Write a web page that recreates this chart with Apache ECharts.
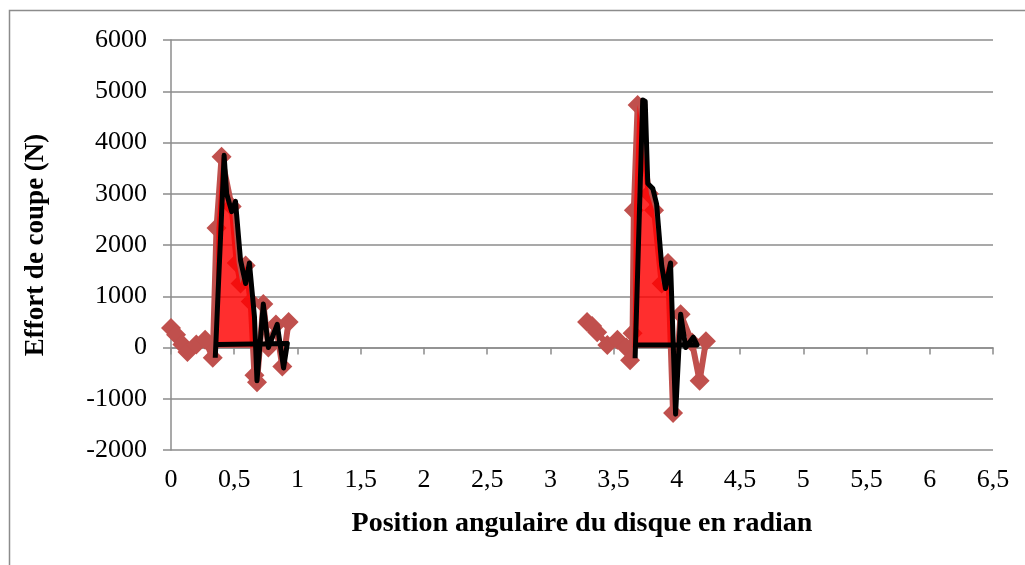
<!DOCTYPE html>
<html>
<head>
<meta charset="utf-8">
<script src="https://cdn.jsdelivr.net/npm/echarts@6/dist/echarts.min.js"></script>
<style>
html,body{margin:0;padding:0;background:#fff;}
#main{width:1025px;height:565px;}
</style>
</head>
<body>
<div id="main"></div>
<script>
// points mesures (losanges rouges)
var mesure1 = [[0,380],[0.04,250],[0.09,60],[0.13,-90],[0.2,60],[0.27,150],[0.33,-200],[0.36,2330],[0.4,3720],[0.48,2750],[0.52,1650],[0.55,1250],[0.59,1600],[0.63,900],[0.66,-540],[0.68,-680],[0.73,850],[0.77,0],[0.83,450],[0.88,-370],[0.93,500]];
var mesure2 = [[3.29,500],[3.33,420],[3.37,300],[3.45,50],[3.53,150],[3.6,0],[3.63,-250],[3.65,280],[3.66,2680],[3.69,4730],[3.78,3000],[3.82,2680],[3.88,1250],[3.93,1650],[3.97,-1280],[4.03,650],[4.12,100],[4.18,-650],[4.23,120]];
// courbe lissee (noire)
var courbe1 = [[0.35,-200],[0.42,3750],[0.44,3000],[0.48,2650],[0.51,2850],[0.55,1700],[0.59,1250],[0.62,1650],[0.66,600],[0.68,-650],[0.73,850],[0.77,0],[0.84,450],[0.89,-400],[0.92,80],[0.37,60]];
var courbe2 = [[3.67,-210],[3.73,4830],[3.75,4800],[3.77,3200],[3.81,3100],[3.84,2800],[3.88,1600],[3.91,1150],[3.95,1650],[3.99,-1300],[4.03,650],[4.07,0],[4.13,200],[4.16,50],[3.66,50]];
// surfaces remplies
var aire1 = [[0.35,0],[0.36,2330],[0.4,3720],[0.48,2750],[0.52,1650],[0.55,1250],[0.59,1600],[0.63,900],[0.67,0]];
var aire2 = [[3.65,0],[3.66,2680],[3.69,4730],[3.78,3000],[3.82,2680],[3.88,1250],[3.93,1650],[3.96,0]];

var myChart = echarts.init(document.getElementById('main'));
var font = 'Liberation Serif';
var grisAxe = '#8c8c8c';

function serieMesure(data) {
	return {
		type: 'line', data: data, z: 2,
		symbol: 'diamond', symbolSize: 20,
		itemStyle: {color: '#c0504d'},
		lineStyle: {color: '#c0504d', width: 6},
		animation: false
	};
}
function serieAire(data) {
	return {
		type: 'line', data: data, z: 3,
		symbol: 'none',
		lineStyle: {width: 0},
		areaStyle: {color: '#ff0000', opacity: 0.82, origin: 0},
		animation: false
	};
}
function serieCourbe(data) {
	return {
		type: 'line', data: data, z: 4,
		symbol: 'none',
		lineStyle: {color: '#000', width: 5, join: 'round'},
		animation: false
	};
}

var option = {
	animation: false,
	grid: {left: 171, right: 32, top: 40, bottom: 115},
	graphic: [{
		type: 'rect', silent: true,
		shape: {x: 9.5, y: 10.5, width: 1040, height: 600},
		style: {fill: 'none', stroke: grisAxe, lineWidth: 1.5}
	}],
	xAxis: [
		{
			type: 'value', min: 0, max: 6.5, interval: 0.5,
			axisLine: {onZero: true, lineStyle: {color: grisAxe, width: 1.5}},
			axisTick: {show: true, length: 7, lineStyle: {color: grisAxe, width: 1.5}},
			axisLabel: {show: false},
			splitLine: {show: false}
		},
		{
			type: 'value', min: 0, max: 6.5, interval: 0.5, position: 'bottom',
			axisLine: {show: false, onZero: false},
			axisTick: {show: false},
			axisLabel: {
				color: '#000', fontFamily: font, fontSize: 26, margin: 17,
				formatter: function (v) { return String(v).replace('.', ','); }
			},
			splitLine: {show: false},
			name: 'Position angulaire du disque en radian',
			nameLocation: 'middle', nameGap: 60,
			nameTextStyle: {color: '#000', fontFamily: font, fontSize: 28, fontWeight: 'bold'}
		}
	],
	yAxis: {
		type: 'value', min: -2000, max: 6000, interval: 1000,
		axisLine: {show: true, lineStyle: {color: grisAxe, width: 1.5}},
		axisTick: {show: true, length: 8, lineStyle: {color: grisAxe, width: 1.5}},
		axisLabel: {
			color: '#000', fontFamily: font, fontSize: 26, margin: 24,
			formatter: function (v) { return String(v); }
		},
		splitLine: {lineStyle: {color: grisAxe, width: 1.5}},
		name: 'Effort de coupe (N)',
		nameLocation: 'middle', nameGap: 121,
		nameTextStyle: {color: '#000', fontFamily: font, fontSize: 27, fontWeight: 'bold'}
	},
	series: [
		serieMesure(mesure1), serieMesure(mesure2),
		serieAire(aire1), serieAire(aire2),
		serieCourbe(courbe1), serieCourbe(courbe2)
	]
};
myChart.setOption(option);
</script>
</body>
</html>
